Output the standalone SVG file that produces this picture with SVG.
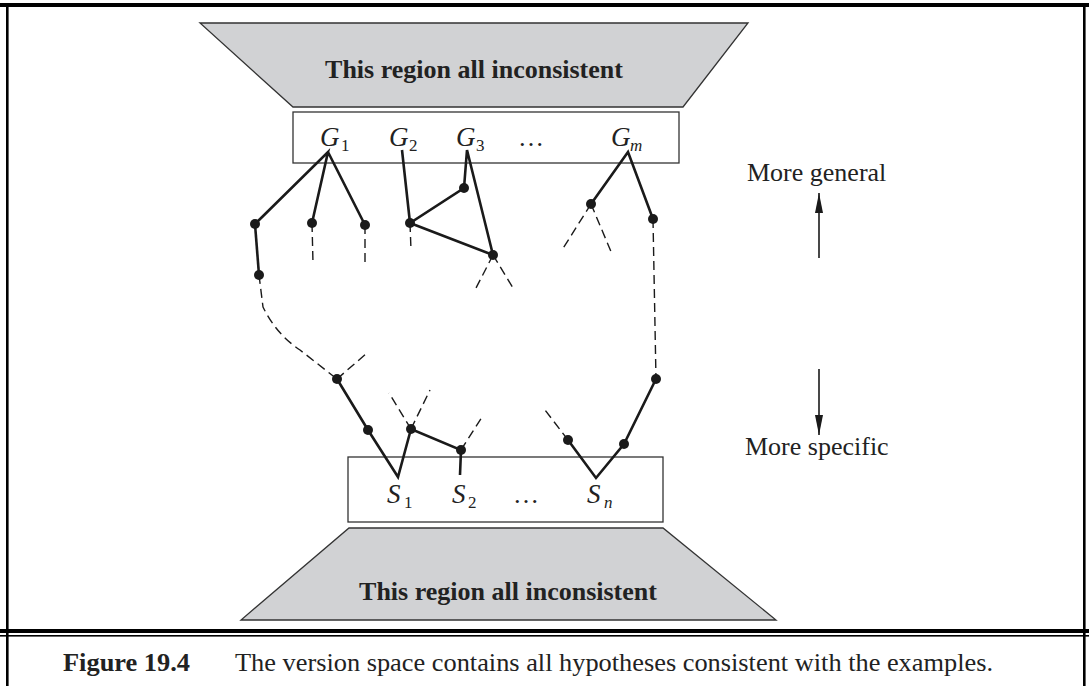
<svg xmlns="http://www.w3.org/2000/svg" width="1089" height="686" viewBox="0 0 1089 686">
<defs>
<style>
.frame{fill:#000}
.trap{fill:#d1d2d4;stroke:#333;stroke-width:1.3}
.box{fill:#fff;stroke:#333;stroke-width:1.3}
.bold{font-family:"Liberation Serif","Times New Roman",serif;font-weight:bold;font-size:26px;fill:#222}
.lbl{font-family:"Liberation Serif","Times New Roman",serif;font-style:italic;font-size:27px;fill:#222}
.sub{font-family:"Liberation Serif","Times New Roman",serif;font-size:17px;fill:#222}
.subi{font-family:"Liberation Serif","Times New Roman",serif;font-style:italic;font-size:17px;fill:#222}
.txt{font-family:"Liberation Serif","Times New Roman",serif;font-size:26px;fill:#222}
.solid{stroke:#1a1a1a;stroke-width:2.6;fill:none;stroke-linejoin:miter}
.dash{stroke:#1a1a1a;stroke-width:1.4;fill:none;stroke-dasharray:9 5}
.dot{fill:#1a1a1a}
.arr{stroke:#1a1a1a;stroke-width:1.6}
</style>
<marker id="ah" viewBox="0 0 20 8" refX="20" refY="4" markerWidth="20" markerHeight="8" markerUnits="userSpaceOnUse" orient="auto">
<path d="M0,0 L20,4 L0,8 z" fill="#1a1a1a"/>
</marker>
</defs>
<rect width="1089" height="686" fill="#fff"/>
<g id="frame">
<rect class="frame" x="0" y="3" width="1089" height="4"/>
<rect class="frame" x="6" y="3" width="2.6" height="683"/>
<rect class="frame" x="1083" y="3" width="2.6" height="683"/>
<rect class="frame" x="0" y="629" width="1089" height="4"/>
<rect class="frame" x="0" y="635" width="1089" height="1.6"/>
</g>
<g id="top-region">
<polygon class="trap" points="200,23 748,23 683,107 293,107"/>
<text class="bold" x="474" y="78" text-anchor="middle">This region all inconsistent</text>
</g>
<g id="bottom-region">
<polygon class="trap" points="349,528 663,528 776,620 241,620"/>
<text class="bold" x="508" y="600" text-anchor="middle">This region all inconsistent</text>
</g>
<g id="G-boundary">
<rect class="box" x="293" y="112" width="386" height="51"/>
<text class="lbl" x="320" y="146">G</text><text class="sub" x="341" y="151">1</text>
<text class="lbl" x="389" y="146">G</text><text class="sub" x="409" y="151">2</text>
<text class="lbl" x="456" y="146">G</text><text class="sub" x="476" y="151">3</text>
<text class="txt" x="518" y="146">…</text>
<text class="lbl" x="611" y="146">G</text><text class="subi" x="630" y="151">m</text>
</g>
<g id="S-boundary">
<rect class="box" x="348" y="457" width="315" height="65"/>
<text class="lbl" x="387" y="503">S</text><text class="sub" x="404" y="508">1</text>
<text class="lbl" x="452" y="503">S</text><text class="sub" x="468" y="508">2</text>
<text class="txt" x="513" y="503">…</text>
<text class="lbl" x="587" y="503">S</text><text class="subi" x="604" y="508">n</text>
</g>
<g id="connectors">
<path class="solid" d="M255,224 L328,152 L312,223 M328,152 L365,225"/>
<path class="solid" d="M255,224 L259,275"/>
<path class="solid" d="M402,150 L410,223 L464,188 L467,150 L493,255 L410,223"/>
<path class="solid" d="M591,204 L628,152 L653,219"/>
<path class="solid" d="M337,379 L368,430 L398,477 L411,429 L461,450 L460,475"/>
<path class="solid" d="M656,379 L624,444 L596,478 L568,440"/>
<path class="dash" d="M259,275 L263,307 Q276,334 300,350 L337,379"/>
<path class="dash" d="M337,379 L367,353"/>
<path class="dash" d="M312,223 L313,263 M365,225 L365,263 M410,223 L411,250"/>
<path class="dash" d="M493,255 L476,288 M493,255 L513,288"/>
<path class="dash" d="M591,204 L562,250 M591,204 L612,254"/>
<path class="dash" d="M653,219 L656,379"/>
<path class="dash" d="M411,429 L389,393 M411,429 L430,390"/>
<path class="dash" d="M461,450 L482,417"/>
<path class="dash" d="M568,440 L545,410"/>
</g>
<g id="nodes">
<circle class="dot" cx="255" cy="224" r="5"/>
<circle class="dot" cx="312" cy="223" r="5"/>
<circle class="dot" cx="365" cy="225" r="5"/>
<circle class="dot" cx="259" cy="275" r="5"/>
<circle class="dot" cx="410" cy="223" r="5"/>
<circle class="dot" cx="464" cy="188" r="5"/>
<circle class="dot" cx="493" cy="255" r="5"/>
<circle class="dot" cx="591" cy="204" r="5"/>
<circle class="dot" cx="653" cy="219" r="5"/>
<circle class="dot" cx="337" cy="379" r="5"/>
<circle class="dot" cx="368" cy="430" r="5"/>
<circle class="dot" cx="411" cy="429" r="5"/>
<circle class="dot" cx="461" cy="450" r="5"/>
<circle class="dot" cx="656" cy="379" r="5"/>
<circle class="dot" cx="624" cy="444" r="5"/>
<circle class="dot" cx="568" cy="440" r="5"/>
</g>
<g id="direction-labels">
<text class="txt" x="747" y="181">More general</text>
<line class="arr" x1="819" y1="258" x2="819" y2="193" marker-end="url(#ah)"/>
<line class="arr" x1="819" y1="369" x2="819" y2="435" marker-end="url(#ah)"/>
<text class="txt" x="745" y="455">More specific</text>
</g>
<g id="caption">
<text class="bold" x="63" y="671" textLength="127" lengthAdjust="spacingAndGlyphs">Figure 19.4</text>
<text class="txt" x="235" y="671" textLength="758" lengthAdjust="spacingAndGlyphs">The version space contains all hypotheses consistent with the examples.</text>
</g>
</svg>
